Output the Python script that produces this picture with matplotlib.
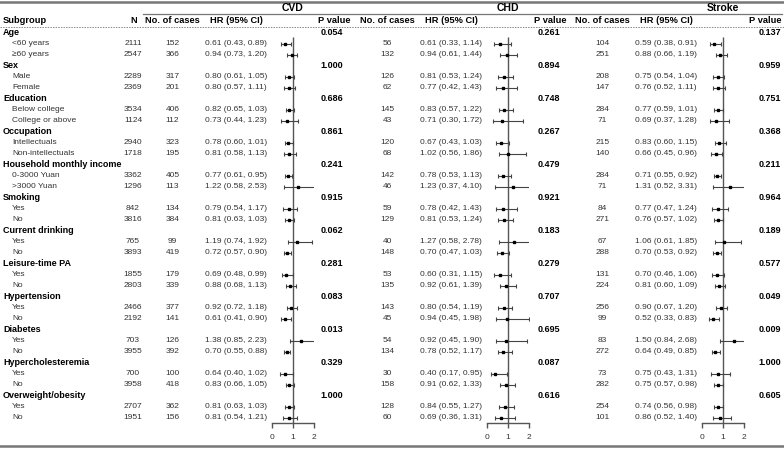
import numpy as np
import matplotlib
matplotlib.use("Agg")
import matplotlib.pyplot as plt

plt.rcParams['font.family'] = ['Liberation Sans', 'DejaVu Sans']

groups = ["Age", "Sex", "Education", "Occupation", "Household monthly income",
          "Smoking", "Current drinking", "Leisure-time PA", "Hypertension",
          "Diabetes", "Hypercholesteremia", "Overweight/obesity"]
levels = [["<60 years", "≥60 years"], ["Male", "Female"],
          ["Below college", "College or above"],
          ["Intellectuals", "Non-intellectuals"],
          ["0-3000 Yuan", ">3000 Yuan"], ["Yes", "No"], ["Yes", "No"],
          ["Yes", "No"], ["Yes", "No"], ["Yes", "No"], ["Yes", "No"], ["Yes", "No"]]
n_total = [2111, 2547, 2289, 2369, 3534, 1124, 2940, 1718, 3362, 1296, 842, 3816,
           765, 3893, 1855, 2803, 2466, 2192, 703, 3955, 700, 3958, 2707, 1951]

cvd_cases = [152, 366, 317, 201, 406, 112, 323, 195, 405, 113, 134, 384,
             99, 419, 179, 339, 377, 141, 126, 392, 100, 418, 362, 156]
cvd_hr = [0.61, 0.94, 0.80, 0.80, 0.82, 0.73, 0.78, 0.81, 0.77, 1.22, 0.79, 0.81,
          1.19, 0.72, 0.69, 0.88, 0.92, 0.61, 1.38, 0.70, 0.64, 0.83, 0.81, 0.81]
cvd_lo = [0.43, 0.73, 0.61, 0.57, 0.65, 0.44, 0.60, 0.58, 0.61, 0.58, 0.54, 0.63,
          0.74, 0.57, 0.48, 0.68, 0.72, 0.41, 0.85, 0.55, 0.40, 0.66, 0.63, 0.54]
cvd_hi = [0.89, 1.20, 1.05, 1.11, 1.03, 1.23, 1.01, 1.13, 0.95, 2.53, 1.17, 1.03,
          1.92, 0.90, 0.99, 1.13, 1.18, 0.90, 2.23, 0.88, 1.02, 1.05, 1.03, 1.21]
cvd_p = [0.054, 1.000, 0.686, 0.861, 0.241, 0.915, 0.062, 0.281, 0.083, 0.013, 0.329, 1.000]

chd_cases = [56, 132, 126, 62, 145, 43, 120, 68, 142, 46, 59, 129,
             40, 148, 53, 135, 143, 45, 54, 134, 30, 158, 128, 60]
chd_hr = [0.61, 0.94, 0.81, 0.77, 0.83, 0.71, 0.67, 1.02, 0.78, 1.23, 0.78, 0.81,
          1.27, 0.70, 0.60, 0.92, 0.80, 0.94, 0.92, 0.78, 0.40, 0.91, 0.84, 0.69]
chd_lo = [0.33, 0.61, 0.53, 0.42, 0.57, 0.30, 0.43, 0.56, 0.53, 0.37, 0.42, 0.53,
          0.58, 0.47, 0.31, 0.61, 0.54, 0.45, 0.45, 0.52, 0.17, 0.62, 0.55, 0.36]
chd_hi = [1.14, 1.44, 1.24, 1.43, 1.22, 1.72, 1.03, 1.86, 1.13, 4.10, 1.43, 1.24,
          2.78, 1.03, 1.15, 1.39, 1.19, 1.98, 1.90, 1.17, 0.95, 1.33, 1.27, 1.31]
chd_p = [0.261, 0.894, 0.748, 0.267, 0.479, 0.921, 0.183, 0.279, 0.707, 0.695, 0.087, 0.616]

stroke_cases = [104, 251, 208, 147, 284, 71, 215, 140, 284, 71, 84, 271,
                67, 288, 131, 224, 256, 99, 83, 272, 73, 282, 254, 101]
stroke_hr = [0.59, 0.88, 0.75, 0.76, 0.77, 0.69, 0.83, 0.66, 0.71, 1.31, 0.77, 0.76,
             1.06, 0.70, 0.70, 0.81, 0.90, 0.52, 1.50, 0.64, 0.75, 0.75, 0.74, 0.86]
stroke_lo = [0.38, 0.66, 0.54, 0.52, 0.59, 0.37, 0.60, 0.45, 0.55, 0.52, 0.47, 0.57,
             0.61, 0.53, 0.46, 0.60, 0.67, 0.33, 0.84, 0.49, 0.43, 0.57, 0.56, 0.52]
stroke_hi = [0.91, 1.19, 1.04, 1.11, 1.01, 1.28, 1.15, 0.96, 0.92, 3.31, 1.24, 1.02,
             1.85, 0.92, 1.06, 1.09, 1.20, 0.83, 2.68, 0.85, 1.31, 0.98, 0.98, 1.40]
stroke_p = [0.137, 0.959, 0.751, 0.368, 0.211, 0.964, 0.189, 0.577, 0.049, 0.009, 1.000, 0.605]

outcomes = [
    ("CVD", cvd_cases, cvd_hr, cvd_lo, cvd_hi, cvd_p),
    ("CHD", chd_cases, chd_hr, chd_lo, chd_hi, chd_p),
    ("Stroke", stroke_cases, stroke_hr, stroke_lo, stroke_hi, stroke_p),
]

# ---- layout (pixels) ----
W, H = 784, 449
row0, step = 32.5, 11.0          # y of first row, row spacing
axis_y = 423                     # y of forest x-axis
block_x = [0, 215, 430]          # horizontal offset of each outcome block
p_head_x = [334, 550, 765]       # P value header centres
p_val_x = [332, 549, 770]        # P value centres
txt = '#333333'
line_col = '#555555'

fig = plt.figure(figsize=(W / 100, H / 100), dpi=100)
ax = fig.add_axes([0, 0, 1, 1])
ax.set_xlim(0, W)
ax.set_ylim(H, 0)
ax.axis('off')

# table rules
ax.plot([0, W], [1.5, 1.5], color='#777777', lw=1.8)
ax.plot([0, W], [445.5, 445.5], color='#777777', lw=1.8)
ax.plot([143, 782], [14.3, 14.3], color='#777777', lw=0.9)
ax.plot([0, W], [26.7, 26.7], color='#888888', lw=0.7, ls=(0, (1.5, 1.2)))

# column headers
hkw = dict(fontsize=6.7, fontweight='bold', color='black', va='center')
ax.text(3, 20.7, "Subgroup", ha='left', **hkw)
ax.text(134, 20.7, "N", ha='center', **hkw)

# subgroup labels and N
row_groups = []
row_levels = []
r = 0
for g, lv in zip(groups, levels):
    ax.text(3, row0 + step * r, g, ha='left', va='center', fontsize=6.5,
            fontweight='bold', color='black')
    row_groups.append(r)
    for name in lv:
        r += 1
        ax.text(12, row0 + step * r, name, ha='left', va='center', fontsize=6,
                color=txt)
        row_levels.append(r)
    r += 1
for ri, n in zip(row_levels, n_total):
    ax.text(133, row0 + step * ri, f"{n}", ha='center', va='center',
            fontsize=6, color=txt)

for k, ((name, cases, hr, lo, hi, pv), dx) in enumerate(zip(outcomes, block_x)):
    ref_x = 293 + dx
    ax.text(ref_x, 8.2, name, ha='center', va='center', fontsize=7.5,
            fontweight='bold', color='black')
    ax.text(172.5 + dx, 20.7, "No. of cases", ha='center', **hkw)
    ax.text(236 + dx, 20.7, "HR (95% CI)", ha='center', **hkw)
    ax.text(p_head_x[k], 20.7, "P value", ha='center', **hkw)

    for ri, c, h, l, u in zip(row_levels, cases, hr, lo, hi):
        y = row0 + step * ri
        ax.text(172.5 + dx, y, f"{c}", ha='center', va='center', fontsize=6, color=txt)
        ax.text(236 + dx, y, f"{h:.2f} ({l:.2f}, {u:.2f})", ha='center',
                va='center', fontsize=6, color=txt)
    for ri, p in zip(row_groups, pv):
        ax.text(p_val_x[k], row0 + step * ri, f"{p:.3f}", ha='center',
                va='center', fontsize=6.5, fontweight='bold', color='black')

    # forest panel: x from HR 0 to 2, y in row units
    x0, x2 = 272 + dx, 314 + dx
    top_y = 30
    fax = fig.add_axes([x0 / W, (H - axis_y) / H, (x2 - x0) / W, (axis_y - top_y) / H])
    fax.patch.set_alpha(0)
    fax.set_xlim(0, 2)
    y_bot = (axis_y - row0) / step
    fax.set_ylim(y_bot, (top_y - row0) / step)
    h_arr = np.array(hr)
    err = [h_arr - np.array(lo), np.array(hi) - h_arr]
    fax.vlines(1, (36.5 - row0) / step, y_bot, color=line_col, lw=1.0, clip_on=False)
    fax.errorbar(h_arr, row_levels, xerr=err, fmt='s', ms=1.7, mfc='black',
                 mec='black', ecolor='#444444', elinewidth=0.8, capsize=1.6,
                 capthick=0.8, zorder=3)
    for s in ['top', 'left', 'right']:
        fax.spines[s].set_visible(False)
    fax.spines['bottom'].set_color(line_col)
    fax.spines['bottom'].set_linewidth(1.0)
    fax.set_yticks([])
    fax.set_xticks([0, 1, 2])
    fax.tick_params(axis='x', length=3.8, width=1.0, color=line_col,
                    labelsize=6, labelcolor=txt, pad=4)

plt.savefig("out.png", dpi=100)
